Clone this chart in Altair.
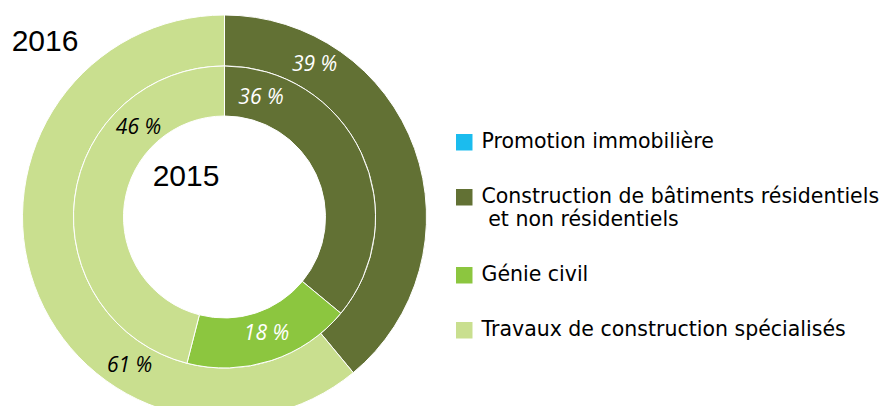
import altair as alt
import pandas as pd

categories = [
    "Promotion immobilière",
    "Construction de bâtiments résidentiels et non résidentiels",
    "Génie civil",
    "Travaux de construction spécialisés",
]
colors = ["#1bbcee", "#627134", "#8cc63f", "#c9df8f"]
order = [1, 2, 3, 4]
values_2016 = [0, 39, 0, 61]
values_2015 = [0, 36, 18, 46]

# label anchors (angle in percent of the full circle) and colours
label_txt_2016 = ["39 %", "61 %"]
label_ang_2016 = [8.5, 59.0]
label_col_2016 = ["white", "black"]

label_txt_2015 = ["36 %", "18 %", "46 %"]
label_ang_2015 = [4.75, 44.5, 87.8]
label_col_2015 = ["white", "white", "black"]

years = ["2016", "2015"]

df16 = pd.DataFrame({"category": categories, "value": values_2016, "order": order})
df15 = pd.DataFrame({"category": categories, "value": values_2015, "order": order})
lab16 = pd.DataFrame({"txt": label_txt_2016, "ang": label_ang_2016, "col": label_col_2016})
lab15 = pd.DataFrame({"txt": label_txt_2015, "ang": label_ang_2015, "col": label_col_2015})

CX, CY = 216.5, 209

legend = alt.Legend(
    title=None,
    orient="none",
    legendX=446,
    legendY=124,
    symbolType="square",
    symbolSize=272,
    symbolStrokeWidth=0,
    labelFont="DejaVu Sans",
    labelFontSize=20.5,
    labelColor="black",
    labelOffset=7,
    labelLimit=600,
    rowPadding=34,
    labelExpr="datum.label == 'Construction de bâtiments résidentiels et non résidentiels' ? ['Construction de bâtiments résidentiels', '\u200b\u2004et non résidentiels'] : datum.label",
)

color = alt.Color("category:N", scale=alt.Scale(domain=categories, range=colors), legend=legend)
theta_scale = alt.Scale(domain=[0, 100])


def ring(df, r_in, r_out, show_legend):
    return (
        alt.Chart(df)
        .transform_filter("datum.value > 0")
        .mark_arc(radius=r_out, radius2=r_in, stroke="white", strokeWidth=1)
        .encode(
            theta=alt.Theta("value:Q", stack=True, scale=theta_scale),
            order=alt.Order("order:Q"),
            color=color if show_legend else alt.Color("category:N", scale=alt.Scale(domain=categories, range=colors), legend=None),
            x=alt.value(CX),
            y=alt.value(CY),
        )
    )


def labels(df, r):
    return (
        alt.Chart(df)
        .mark_text(font="Open Sans", fontStyle="italic", fontSize=21, align="center", baseline="middle")
        .encode(
            theta=alt.Theta("ang:Q", scale=theta_scale, stack=None),
            radius=alt.value(r),
            text="txt:N",
            color=alt.Color("col:N", scale=None),
            x=alt.value(CX),
            y=alt.value(CY),
        )
    )


year16 = alt.Chart(pd.DataFrame({"t": [years[0]]})).mark_text(
    font="Liberation Sans", fontSize=30, color="black", align="center", baseline="middle"
).encode(text="t:N", x=alt.value(37), y=alt.value(34))
year15 = alt.Chart(pd.DataFrame({"t": [years[1]]})).mark_text(
    font="Liberation Sans", fontSize=30, color="black", align="center", baseline="middle"
).encode(text="t:N", x=alt.value(178), y=alt.value(169))

chart = (
    alt.layer(
        ring(df16, 151, 202, True),
        ring(df15, 101, 151, False),
        labels(lab16, 177),
        labels(lab15, 124),
        year16,
        year15,
    )
    .properties(width=873, height=398, autosize=alt.AutoSizeParams(type="none"), padding=0)
    .configure_view(stroke=None)
)

chart.save("out.html", embed_options={"renderer": "svg", "actions": False})
